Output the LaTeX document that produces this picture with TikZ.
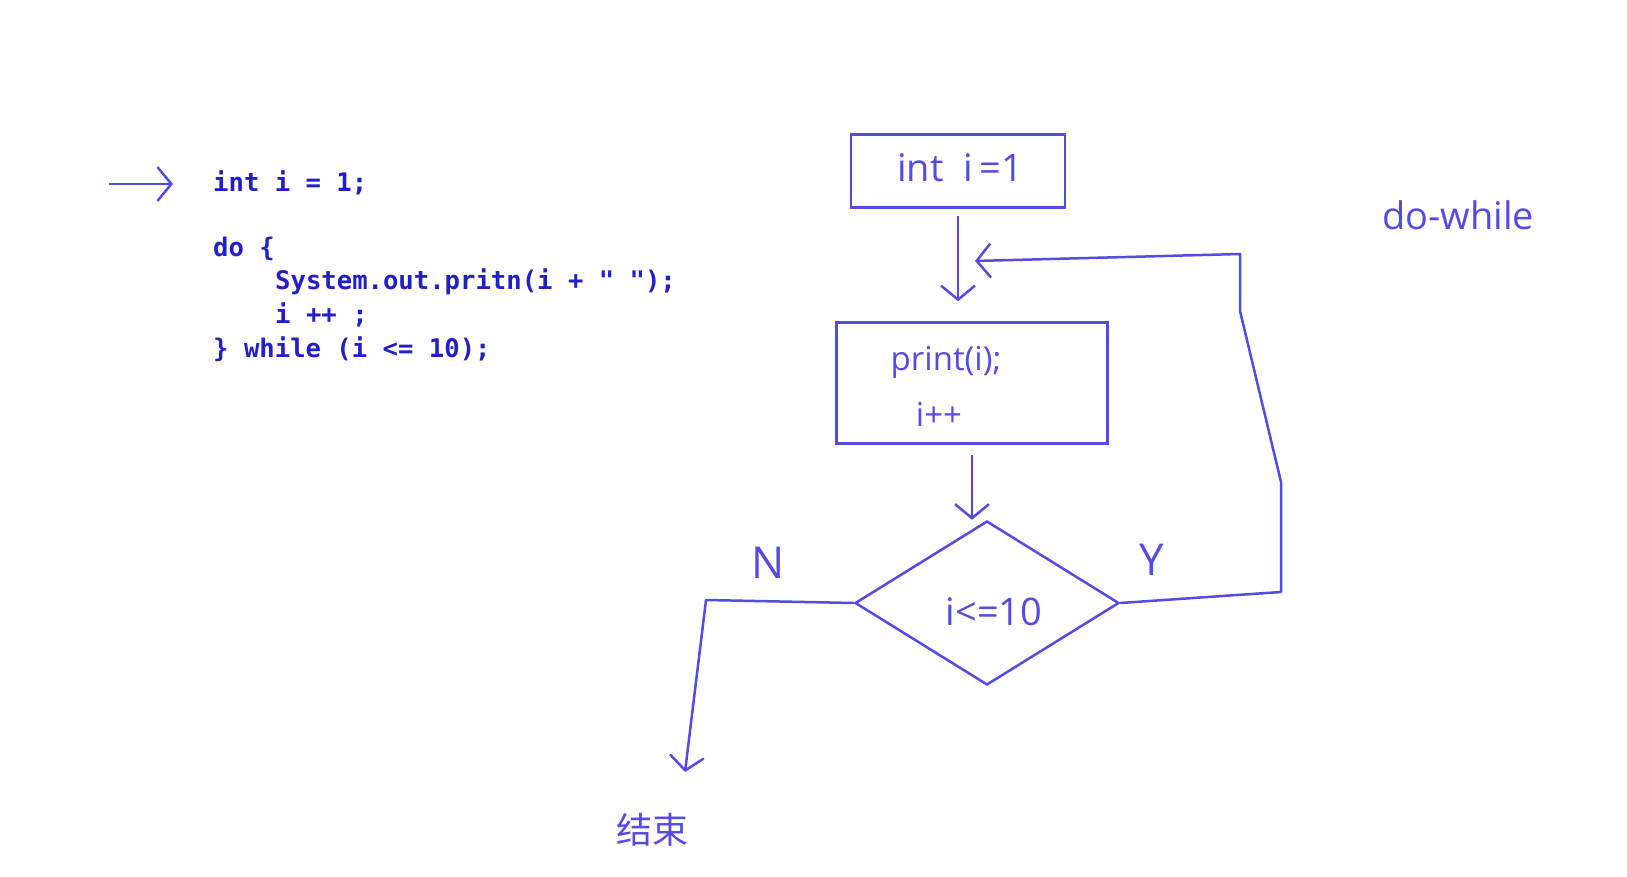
\documentclass[tikz,border=0pt]{standalone}
\usepackage{fontspec}
\usetikzlibrary{shapes.geometric,arrows.meta}
\newfontfamily\codefont{DejaVu Sans Mono}
\newfontfamily\handfont{Open Sans}
\newfontfamily\cjkfont{Noto Sans CJK SC}
\definecolor{codeblue}{RGB}{35,30,200}
\definecolor{ink}{RGB}{85,75,225}
\tikzset{
  code/.style={anchor=west, inner sep=0pt, text=codeblue, font=\codefont\bfseries\fontsize{25.6}{30}\selectfont},
  hand/.style={text=ink, inner sep=0pt, font=\handfont\fontsize{38}{42}\selectfont},
  box/.style={draw=ink, line width=2.5pt, rectangle, inner sep=0pt},
  flow/.style={draw=ink, line width=2.5pt, line join=round, -{Straight Barb[length=14pt,width=34pt,line width=2.5pt]}},
}
\begin{document}
\begin{tikzpicture}[x=1pt,y=-1pt]
\useasboundingbox[fill=white] (0,0) rectangle (1627,877);

% code
\node[code] (c1) at (213,183) {int i = 1;};
\node[code] (c2) at (213,249) {do \{};
\node[code] (c3) at (275,282) {System.out.pritn(i + " ");};
\node[code] (c4) at (275,315) {i ++ ;};
\node[code] (c5) at (213,349) {\} while (i <= 10);};

% pointer arrow
\coordinate (p0) at (109,184);
\coordinate (p1) at (173,184);
\draw[flow] (p0) -- (p1);

% flowchart
\node[box, minimum width=214pt, minimum height=73pt] (b1) at (958,171) {};
\node[hand] (t1) at (960,168) {int\ \ i\,=1};
\node[box, minimum width=271pt, minimum height=121pt] (b2) at (972,383) {};
\node[hand, font=\handfont\fontsize{33}{40}\selectfont] (t2) at (946,362) {print(i);};
\node[hand, font=\handfont\fontsize{33}{40}\selectfont] (t3) at (939,414) {i++};
\node[draw=ink, line width=2.5pt, diamond, minimum width=264pt, minimum height=164pt, inner sep=0pt] (d) at (987,603) {};
\node[hand] (t4) at (994,612) {i<=10};

\draw[flow, shorten <=7pt, shorten >=20pt] (b1.south) -- (b1.south |- b2.north);
\draw[flow, shorten <=10pt] (b2.south) -- (b2.south |- d.north);

% Y branch back loop
\coordinate (y1) at (1281,592);
\coordinate (y2) at (1281,482);
\coordinate (y3) at (1240,311);
\coordinate (y4) at (1240,254);
\coordinate (yend) at (975,261);
\draw[flow] (d.east) -- (y1) -- (y2) -- (y3) -- (y4) -- (yend);
\node[hand, font=\handfont\fontsize{44}{48}\selectfont] (ly) at (1152,560) {Y};

% N branch
\coordinate (n1) at (706,600);
\coordinate (nend) at (685,772);
\draw[flow] (d.west) -- (n1) -- (nend);
\node[hand, font=\handfont\fontsize{44}{48}\selectfont] (ln) at (768,563) {N};
\node[hand, font=\cjkfont\fontsize{36}{40}\selectfont] (end) at (652,830) {结束};

\node[hand] (dw) at (1458,215) {do-while};
\end{tikzpicture}
\end{document}
